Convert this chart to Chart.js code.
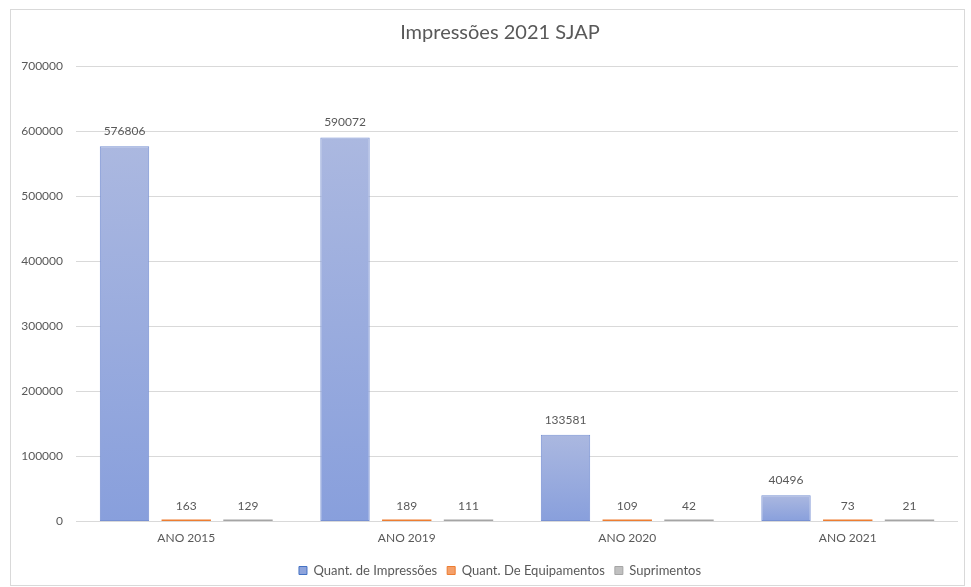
<!DOCTYPE html>
<html>
<head>
<meta charset="utf-8">
<script src="https://cdn.jsdelivr.net/npm/chart.js@4/dist/chart.umd.min.js"></script>
<style>
  html, body { margin: 0; padding: 0; background: #fff; }
  #wrap { position: relative; width: 971px; height: 587px; }
</style>
</head>
<body>
<div id="wrap"><canvas id="chart" width="971" height="587"></canvas></div>
<script>
// Data
const categories = ['ANO 2015', 'ANO 2019', 'ANO 2020', 'ANO 2021'];
const impressoes = [576806, 590072, 133581, 40496];
const equipamentos = [163, 189, 109, 73];
const suprimentos = [129, 111, 42, 21];
const yTicks = [0, 100000, 200000, 300000, 400000, 500000, 600000, 700000];

const textColor = '#595959';
const gridColor = '#d9d9d9';

// Blue bars: lighter at the top, darker at the base
function blueGradient(context) {
    const chart = context.chart;
    const y = chart.scales.y;
    if (!y || context.raw === undefined) return '#9aabde';
    const top = y.getPixelForValue(context.raw);
    const base = y.getPixelForValue(0);
    if (!isFinite(top) || !isFinite(base) || top === base) return '#9aabde';
    const g = chart.ctx.createLinearGradient(0, top, 0, base);
    g.addColorStop(0, '#abb8e0');
    g.addColorStop(1, '#889fdc');
    return g;
}

// Outer frame of the chart
const framePlugin = {
    id: 'frame',
    beforeDraw(chart) {
        const ctx = chart.ctx;
        ctx.save();
        ctx.strokeStyle = gridColor;
        ctx.lineWidth = 1;
        ctx.strokeRect(10.5, 9.5, 954, 576);
        ctx.restore();
    }
};

// Title and legend sit centred on the frame, a little right of the canvas middle
const centreBoxes = {
    id: 'centreBoxes',
    afterLayout(chart) {
        [chart.titleBlock, chart.legend].forEach(box => {
            if (box) { box.left += 11; box.right += 11; }
        });
    }
};

// Value labels above each bar
const valueLabels = {
    id: 'valueLabels',
    afterDatasetsDraw(chart) {
        const ctx = chart.ctx;
        ctx.save();
        ctx.font = '12px Lato';
        ctx.fillStyle = textColor;
        ctx.textAlign = 'center';
        ctx.textBaseline = 'middle';
        chart.data.datasets.forEach((ds, i) => {
            chart.getDatasetMeta(i).data.forEach((bar, j) => {
                const top = chart.scales.y.getPixelForValue(ds.data[j]);
                ctx.fillText(String(ds.data[j]), bar.x, top - 15);
            });
        });
        ctx.restore();
    }
};

Chart.defaults.font.family = 'Lato';
Chart.defaults.color = textColor;

new Chart(document.getElementById('chart').getContext('2d'), {
    type: 'bar',
    data: {
        labels: categories,
        datasets: [
            {
                label: 'Quant. de Impressões',
                data: impressoes,
                backgroundColor: blueGradient,
                borderColor: '#7891d3',
                borderWidth: 1,
                borderSkipped: false
            },
            {
                label: 'Quant. De Equipamentos',
                data: equipamentos,
                backgroundColor: '#ed7d31',
                borderColor: '#ed7d31',
                borderWidth: 0,
                minBarLength: 2
            },
            {
                label: 'Suprimentos',
                data: suprimentos,
                backgroundColor: '#a5a5a5',
                borderColor: '#a5a5a5',
                borderWidth: 0,
                minBarLength: 2
            }
        ]
    },
    options: {
        responsive: false,
        animation: false,
        categoryPercentage: 0.84,
        barPercentage: 0.8,
        layout: { padding: { top: 10, left: 20, right: 13, bottom: 0 } },
        plugins: {
            title: {
                display: true,
                text: 'Impressões 2021 SJAP',
                color: textColor,
                font: { size: 20, weight: 'normal' },
                padding: { top: 11, bottom: 21 }
            },
            legend: {
                position: 'bottom',
                labels: {
                    boxWidth: 8,
                    boxHeight: 8,
                    padding: 10,
                    color: textColor,
                    font: { size: 13 },
                    generateLabels(chart) {
                        const fills = ['#8ea4dc', '#f4a06a', '#c0c0c0'];
                        const strokes = ['#4472c4', '#ed7d31', '#a5a5a5'];
                        return chart.data.datasets.map((ds, i) => ({
                            text: ds.label,
                            fillStyle: fills[i],
                            strokeStyle: strokes[i],
                            lineWidth: 1,
                            datasetIndex: i,
                            fontColor: textColor
                        }));
                    }
                }
            },
            tooltip: { enabled: false }
        },
        scales: {
            x: {
                grid: { display: false, drawTicks: false },
                border: { display: false },
                ticks: { color: textColor, font: { size: 12 }, padding: 9 }
            },
            y: {
                min: 0,
                max: 700000,
                afterBuildTicks(scale) {
                    scale.ticks = yTicks.map(v => ({ value: v }));
                },
                afterFit(scale) { scale.width = 56; },
                grid: { color: gridColor, drawTicks: false },
                border: { display: false },
                ticks: {
                    color: textColor,
                    font: { size: 12 },
                    padding: 13,
                    callback: (v) => String(v)
                }
            }
        }
    },
    plugins: [framePlugin, centreBoxes, valueLabels]
});
</script>
</body>
</html>
